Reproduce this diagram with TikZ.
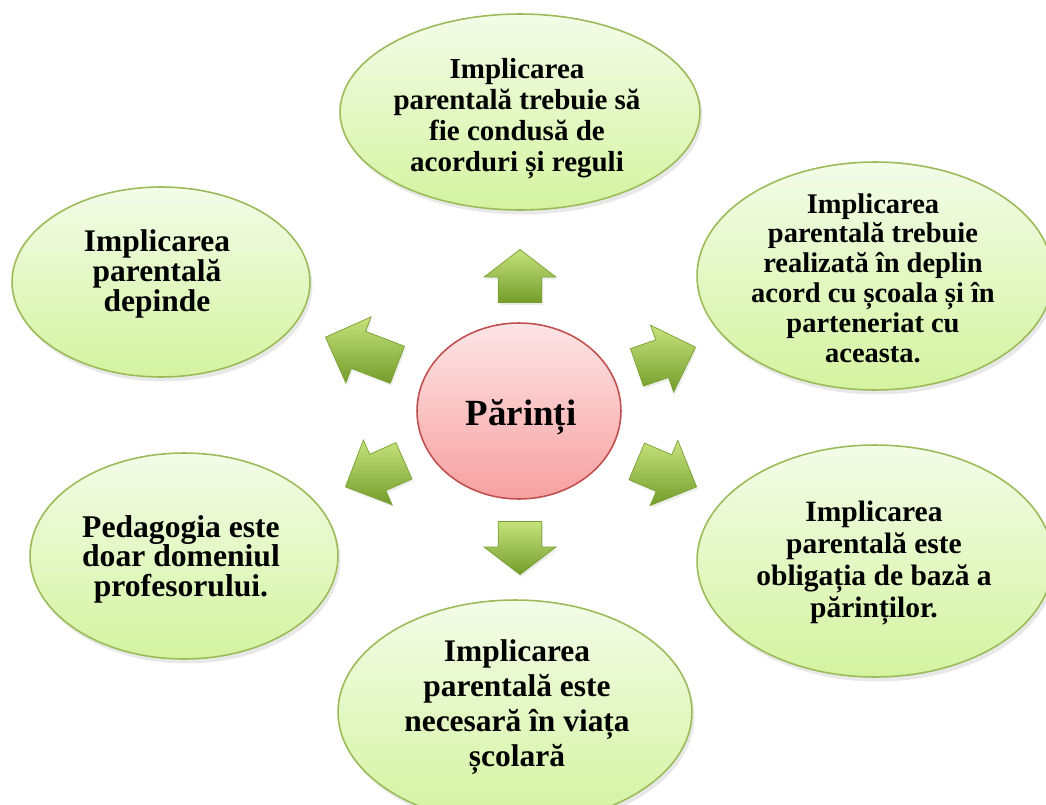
\documentclass[tikz,border=0pt]{standalone}
\usepackage{fontspec}
\setmainfont{Liberation Serif}
\usetikzlibrary{shapes.geometric,shapes.arrows,shadows}
\definecolor{elTop}{HTML}{F3FCE8}
\definecolor{elBot}{HTML}{D4F3A0}
\definecolor{elLine}{HTML}{9BBB59}
\definecolor{cTop}{HTML}{FDE5E6}
\definecolor{cBot}{HTML}{F7A0A0}
\definecolor{cLine}{HTML}{C0504D}
\definecolor{arTop}{HTML}{C6E27C}
\definecolor{arMid}{HTML}{96BE46}
\definecolor{arBot}{HTML}{739D2C}
\definecolor{arLine}{HTML}{78A02E}
\tikzset{
  bub/.style={ellipse, draw=elLine, line width=0.9pt, top color=elTop, bottom color=elBot, inner sep=0pt,
    drop shadow={opacity=0.18, shadow xshift=0.05cm, shadow yshift=-0.09cm}},
  hub/.style={ellipse, draw=cLine, line width=0.9pt, top color=cTop, bottom color=cBot, inner sep=0pt},
  lbl/.style={align=center, text=black, inner sep=0pt},
  blk/.style={single arrow, draw=arLine, line width=0.4pt, top color=arTop, middle color=arMid, bottom color=arBot,
    inner xsep=0pt, minimum width=0pt, anchor=tip,
    drop shadow={opacity=0.15, shadow xshift=0.03cm, shadow yshift=-0.05cm}},
  vblk/.style={blk, inner ysep=0.43cm, single arrow head extend=0.28cm, single arrow tip angle=105, minimum height=1.06cm},
  dblk/.style={blk, inner ysep=0.39cm, single arrow head extend=0.31cm, single arrow tip angle=90}
}
\begin{document}
\begin{tikzpicture}[x=0.02cm,y=-0.02cm]
\useasboundingbox (0,0) rectangle (1046,805);
\clip (0,0) rectangle (1046,805);
% ellipses
\node[bub, minimum width=7.2cm, minimum height=3.92cm] (e1) at (520,112) {};
\node[bub, minimum width=5.96cm, minimum height=3.8cm] (e2) at (161,282) {};
\node[bub, minimum width=7.12cm, minimum height=4.56cm] (e3) at (875,276) {};
\node[bub, minimum width=6.16cm, minimum height=4.12cm] (e4) at (184,556) {};
\node[bub, minimum width=7.12cm, minimum height=4.64cm] (e5) at (875,561) {};
\node[bub, minimum width=7.08cm, minimum height=4.48cm] (e6) at (515,712) {};
\node[hub, minimum width=4.08cm, minimum height=3.52cm] (c) at (519,411) {};
% texts
\node[lbl, font=\fontsize{16.5}{17.6}\selectfont\bfseries] (t1) at (517,119) {Implicarea\\parentală trebuie să\\fie condusă de\\acorduri și reguli};
\node[lbl, font=\fontsize{17.9}{17.1}\selectfont\bfseries] (t2) at (157,274) {Implicarea\\parentală\\depinde};
\node[lbl, font=\fontsize{16.2}{17}\selectfont\bfseries] (t3) at (873,278) {Implicarea\\parentală trebuie\\realizată în deplin\\acord cu școala și în\\parteneriat cu\\aceasta.};
\node[lbl, font=\fontsize{18}{16.8}\selectfont\bfseries] (t4) at (181,559) {Pedagogia este\\doar domeniul\\profesorului.};
\node[lbl, font=\fontsize{16.8}{18.2}\selectfont\bfseries] (t5) at (874,563) {Implicarea\\parentală este\\obligația de bază a\\părinților.};
\node[lbl, font=\fontsize{17.9}{20}\selectfont\bfseries] (t6) at (517,707) {Implicarea\\parentală este\\necesară în viața\\școlară};
\node[lbl, font=\fontsize{21}{24}\selectfont\bfseries] (tc) at (521,417) {Părinți};
% arrows (placed by their tips)
\node[vblk, rotate=90] (a1) at (520,249) {};
\node[vblk, rotate=-90] (a2) at (520,575) {};
\node[dblk, rotate=159, minimum height=1.54cm] (a3) at (325,337) {};
\node[dblk, rotate=204, minimum height=1.28cm] (a4) at (345,487) {};
\node[dblk, rotate=19, minimum height=1.24cm] (a5) at (696,347) {};
\node[dblk, rotate=-23, minimum height=1.30cm] (a6) at (697,487) {};
\end{tikzpicture}
\end{document}
